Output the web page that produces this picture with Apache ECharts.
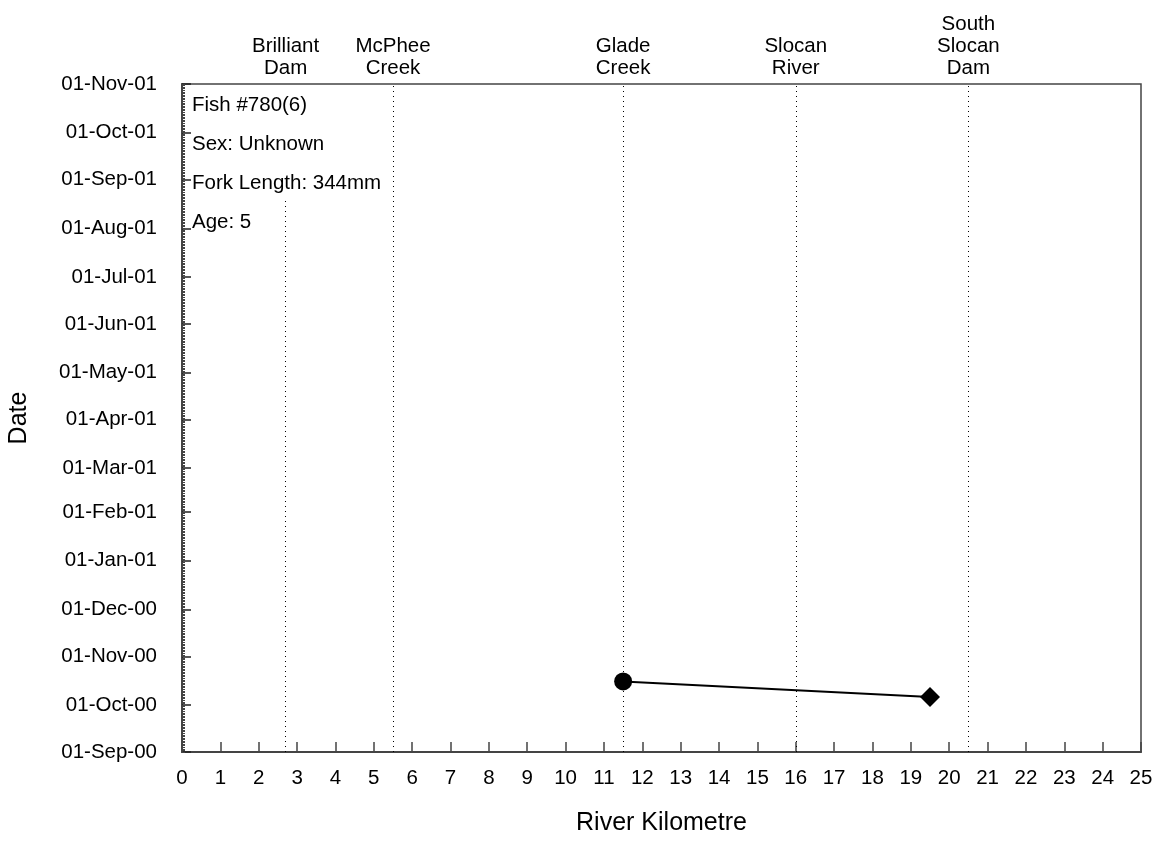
<!DOCTYPE html>
<html lang="en">
	<head>
		<meta charset="UTF-8" />
		<title>Fish #780(6)</title>
		<style>
			* {
				box-sizing: border-box;
				margin: 0;
				padding: 0;
			}

			#chart {
				width: 1162px;
				height: 842px;
				background-color: #fff;
			}
		</style>
	</head>
	<body>
		<div id="chart"></div>
		<script src="https://cdn.jsdelivr.net/npm/echarts@6/dist/echarts.min.js"></script>
		<script>
			// 数据
			const detectKm = [11.5, 19.5]
			const detectDate = ['2000-10-16', '2000-10-06']
			const detectSymbol = ['circle', 'diamond']

			const siteNames = ['Brilliant\nDam', 'McPhee\nCreek', 'Glade\nCreek', 'Slocan\nRiver', 'South\nSlocan\nDam']
			const siteKm = [2.7, 5.5, 11.5, 16, 20.5]
			// 虚线的上端（Brilliant Dam 的线在文字下方结束）
			const siteLineTo = ['2001-08-20', '2001-11-01', '2001-11-01', '2001-11-01', '2001-11-01']

			const fishInfo = ['Fish #780(6)', 'Sex: Unknown', 'Fork Length: 344mm', 'Age: 5']

			const dateMin = '2000-09-01'
			const dateMax = '2001-11-01'
			const monthNames = ['Jan', 'Feb', 'Mar', 'Apr', 'May', 'Jun', 'Jul', 'Aug', 'Sep', 'Oct', 'Nov', 'Dec']

			const font = 'Liberation Sans, Arial, sans-serif'

			function ts(s) {
				const p = s.split('-').map(Number)
				return Date.UTC(p[0], p[1] - 1, p[2])
			}

			function fmtDate(v) {
				const d = new Date(v)
				const dd = String(d.getUTCDate()).padStart(2, '0')
				const yy = String(d.getUTCFullYear() % 100).padStart(2, '0')
				return dd + '-' + monthNames[d.getUTCMonth()] + '-' + yy
			}

			// 每月1日的刻度
			const monthTicks = []
			{
				let d = new Date(ts(dateMin))
				while (d.getTime() <= ts(dateMax)) {
					monthTicks.push(d.getTime())
					d = new Date(Date.UTC(d.getUTCFullYear(), d.getUTCMonth() + 1, 1))
				}
			}
			// 每日的小刻度
			const dayTicks = []
			for (let t = ts(dateMin); t <= ts(dateMax); t += 86400000) {
				dayTicks.push(t)
			}

			const chart = echarts.init(document.getElementById('chart'))

			const axisColor = '#444'

			chart.setOption({
				animation: false,
				textStyle: { fontFamily: font },
				grid: {
					left: 182,
					right: 21,
					top: 84,
					bottom: 90,
					outerBoundsMode: 'none',
					containLabel: false,
					show: true,
					borderColor: axisColor,
					borderWidth: 1.5
				},
				xAxis: [{
						type: 'value',
						min: 0,
						max: 25,
						interval: 1,
						name: 'River Kilometre',
						nameLocation: 'middle',
						nameGap: 59,
						nameTextStyle: { fontSize: 25, color: '#000', fontFamily: font },
						axisLine: { show: true, lineStyle: { color: axisColor, width: 2 } },
						axisTick: { show: true, inside: true, length: 10, lineStyle: { color: axisColor, width: 1.5 } },
						axisLabel: { fontSize: 20.5, color: '#000', margin: 16, fontFamily: font },
						splitLine: { show: false }
					},
					{
						type: 'value',
						position: 'top',
						min: 0,
						max: 25,
						axisLine: { show: false },
						axisTick: { show: false },
						splitLine: { show: false },
						axisLabel: {
							customValues: siteKm,
							fontSize: 20.5,
							lineHeight: 22,
							color: '#000',
							margin: 5,
							fontFamily: font,
							align: 'center',
							formatter: function(v) {
								const i = siteKm.indexOf(v)
								return i >= 0 ? siteNames[i] : ''
							}
						}
					}
				],
				yAxis: [{
						type: 'value',
						min: ts(dateMin),
						max: ts(dateMax),
						name: 'Date',
						nameLocation: 'middle',
						nameGap: 150,
						nameTextStyle: { fontSize: 25, color: '#000', fontFamily: font },
						axisLine: { show: true, lineStyle: { color: axisColor, width: 2 } },
						axisTick: { show: true, inside: true, length: 9, customValues: monthTicks, lineStyle: { color: '#222', width: 1.5 } },
						axisLabel: {
							customValues: monthTicks,
							fontSize: 20.5,
							color: '#000',
							margin: 25,
							fontFamily: font,
							formatter: fmtDate
						},
						splitLine: { show: false }
					},
					{
						type: 'value',
						position: 'left',
						min: ts(dateMin),
						max: ts(dateMax),
						axisLine: { show: false },
						axisTick: { show: true, inside: true, length: 3, customValues: dayTicks, lineStyle: { color: axisColor, width: 1 } },
						axisLabel: { show: false },
						splitLine: { show: false }
					}
				],
				graphic: fishInfo.map((t, i) => ({
					type: 'text',
					left: 192,
					top: 95 + i * 38.8,
					style: {
						text: t,
						fontSize: 20.5,
						fontFamily: font,
						fill: '#000'
					}
				})),
				series: [{
					type: 'line',
					xAxisIndex: 0,
					yAxisIndex: 0,
					data: detectKm.map((km, i) => ({
						value: [km, ts(detectDate[i])],
						symbol: detectSymbol[i],
						symbolSize: i === 0 ? 18 : 20
					})),
					lineStyle: { color: '#000', width: 2 },
					itemStyle: { color: '#000' },
					markLine: {
						silent: true,
						symbol: 'none',
						label: { show: false },
						lineStyle: { color: '#000', width: 1, type: [1, 4] },
						data: siteKm.map((km, i) => [
							{ coord: [km, ts(dateMin)] },
							{ coord: [km, ts(siteLineTo[i])] }
						])
					},
					z: 3
				}]
			})
		</script>
	</body>
</html>
